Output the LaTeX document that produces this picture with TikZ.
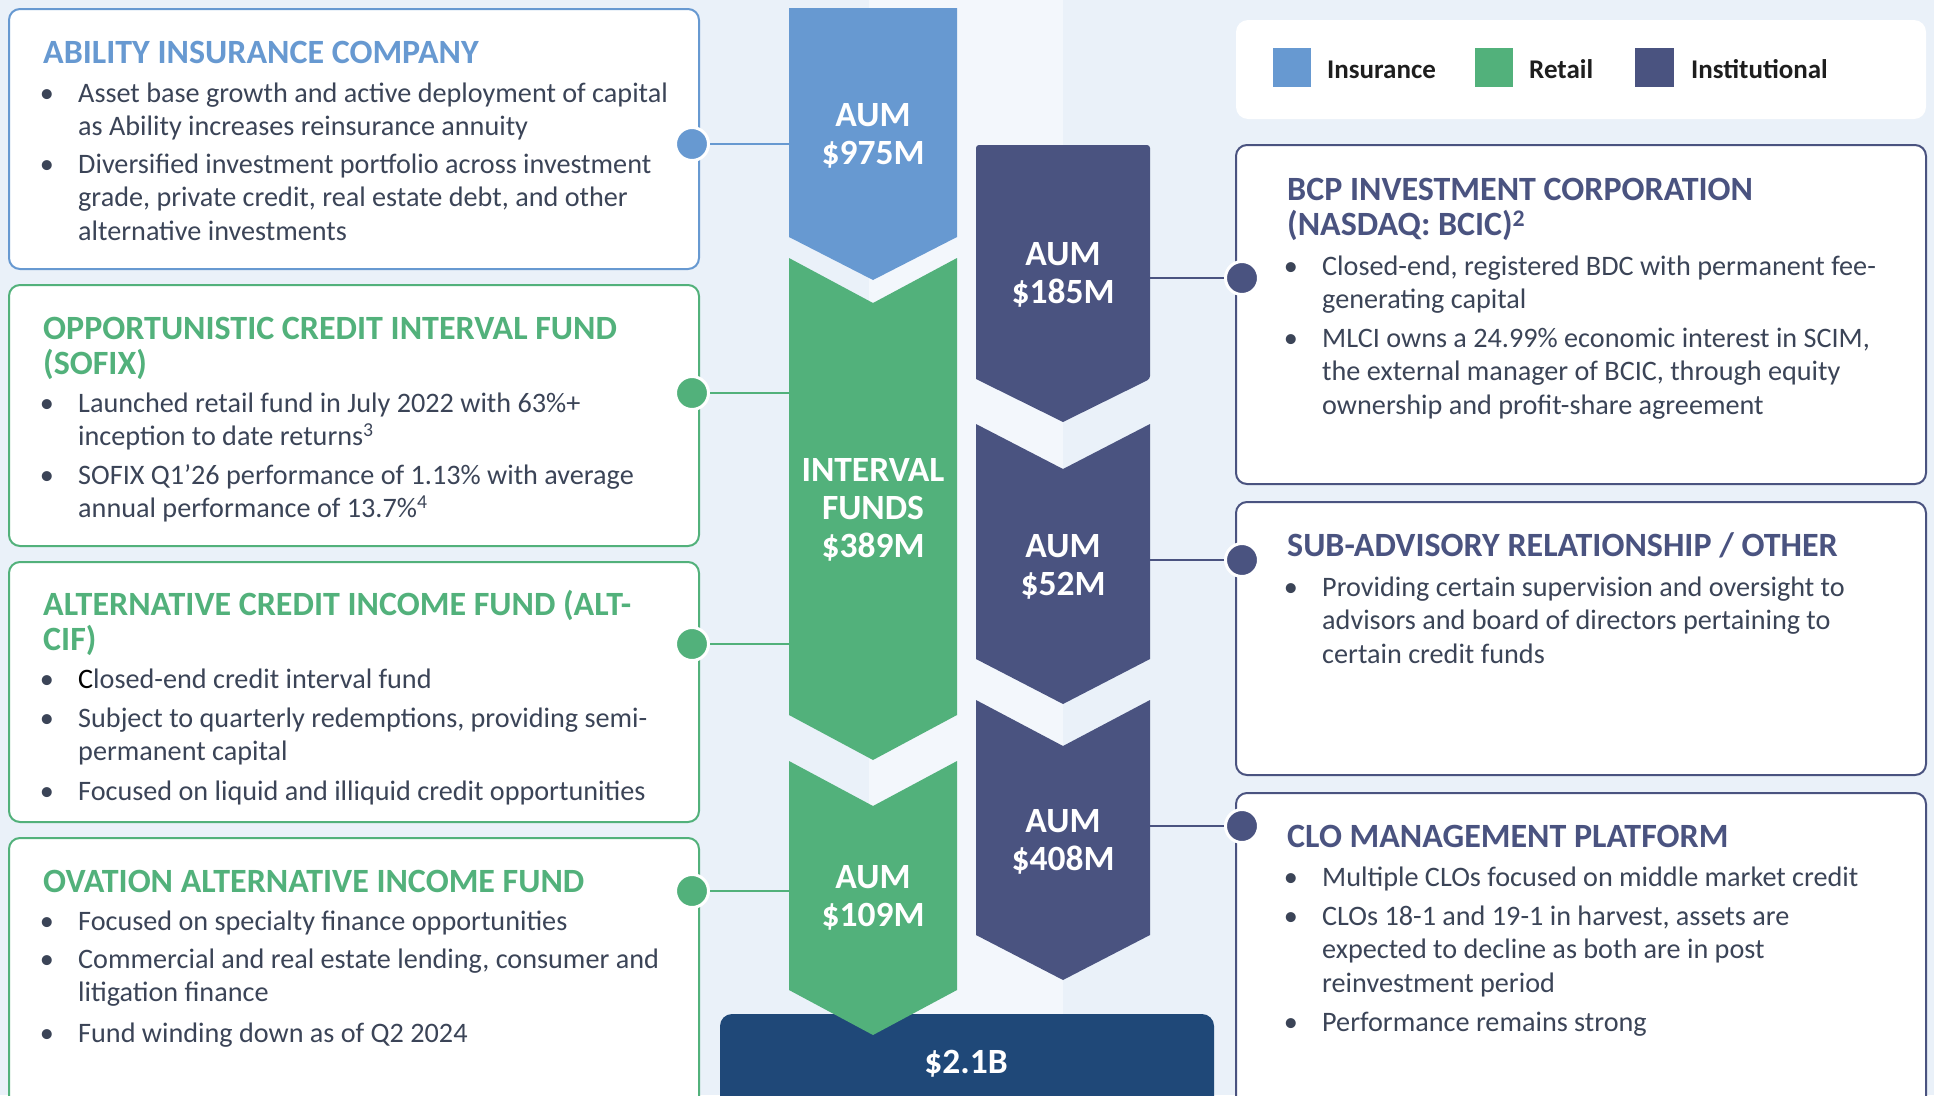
\documentclass[tikz,border=0pt]{standalone}
\usepackage{fontspec}
\setmainfont{Carlito}
\usetikzlibrary{calc}

\definecolor{bg}{HTML}{EAF1F9}
\definecolor{strip}{HTML}{F3F7FC}
\definecolor{insur}{HTML}{6799D1}
\definecolor{retail}{HTML}{52B17B}
\definecolor{inst}{HTML}{4A5380}
\definecolor{total}{HTML}{1F4878}
\definecolor{bodycol}{HTML}{3B4457}
\definecolor{legendtxt}{HTML}{1E1E1E}

\tikzset{
  infobox/.style={draw=#1, line width=2bp, fill=white, rounded corners=11bp},
  headtxt/.style={text=#1, font=\fontsize{34bp}{35bp}\selectfont\bfseries, anchor=base west, inner sep=0pt},
  bodytxt/.style={text=bodycol, font=\fontsize{28.2bp}{33.5bp}\selectfont, anchor=base west, inner sep=0pt},
  dotmark/.style={circle, fill=#1, draw=white, line width=3bp, minimum size=33bp, inner sep=0pt},
  link/.style={draw=#1, line width=2.5bp},
  aumtxt/.style={text=white, font=\fontsize{35.5bp}{38bp}\selectfont\bfseries, anchor=base, inner sep=0pt},
  legendlbl/.style={text=legendtxt, font=\fontsize{27bp}{30bp}\selectfont\bfseries, anchor=base west, inner sep=0pt},
}

% a bullet point: name, bullet x, text x, first baseline y, lines
\newcommand\bpoint[5]{%
  \node[bodytxt, anchor=base] (#1b) at (#2,#4) {\textbullet};
  \node[bodytxt] (#1) at (#3,#4) {\parbox[t]{640bp}{\leavevmode#5}};
}
% a heading: name, x, first baseline y, colour, lines
\newcommand\bhead[5]{%
  \node[headtxt=#4] (#1) at (#2,#3) {\parbox[t]{700bp}{\leavevmode#5}};
}
% chevron label: name, x, first baseline y, lines
\newcommand\clabel[4]{%
  \node[aumtxt] (#1) at (#2,#3) {\parbox[t]{220bp}{\centering #4}};
}

\begin{document}
\begin{tikzpicture}[x=1bp, y={(0,-1bp)}]
\useasboundingbox (0,0) rectangle (1934,1095);
\clip (0,0) rectangle (1934,1095);

% background and central light band
\fill[bg] (0,0) rectangle (1934,1095);
\fill[strip] (869,0) rectangle (1063,1095);

% ---------- left column of fund descriptions ----------
\draw[infobox=insur]  (9,9)   rectangle (699,269);
\draw[infobox=retail] (9,285) rectangle (699,546);
\draw[infobox=retail] (9,562) rectangle (699,822);
\draw[infobox=retail] (9,838) rectangle (699,1120);

\bhead{h1}{43}{63}{insur}{ABILITY INSURANCE COMPANY}
\bpoint{t1a}{47}{78}{102}{Asset base growth and active deployment of capital\\as Ability increases reinsurance annuity}
\bpoint{t1b}{47}{78}{173}{Diversified investment portfolio across investment\\grade, private credit, real estate debt, and other\\alternative investments}

\bhead{h2}{43}{339}{retail}{OPPORTUNISTIC CREDIT INTERVAL FUND\\(SOFIX)}
\bpoint{t2a}{47}{78}{412}{Launched retail fund in July 2022 with 63\%+\\inception to date returns\textsuperscript{3}}
\bpoint{t2b}{47}{78}{484}{SOFIX Q1’26 performance of 1.13\% with average\\annual performance of 13.7\%\textsuperscript{4}}

\bhead{h3}{43}{615}{retail}{ALTERNATIVE CREDIT INCOME FUND (ALT-\\CIF)}
\bpoint{t3a}{47}{78}{688}{\textcolor{black}{C}losed-end credit interval fund}
\bpoint{t3b}{47}{78}{727}{Subject to quarterly redemptions, providing semi-\\permanent capital}
\bpoint{t3c}{47}{78}{800}{Focused on liquid and illiquid credit opportunities}

\bhead{h4}{43}{892}{retail}{OVATION ALTERNATIVE INCOME FUND}
\bpoint{t4a}{47}{78}{930}{Focused on specialty finance opportunities}
\bpoint{t4b}{47}{78}{968}{Commercial and real estate lending, consumer and\\litigation finance}
\bpoint{t4c}{47}{78}{1042}{Fund winding down as of Q2 2024}

% ---------- right column ----------
\fill[white, rounded corners=12bp] (1236,20) rectangle (1926,119);
\fill[insur]  (1273,48) rectangle (1311,87);
\fill[retail] (1475,48) rectangle (1513,87);
\fill[inst]   (1635,48) rectangle (1674,87);
\node[legendlbl] (lg1) at (1327,78) {Insurance};
\node[legendlbl] (lg2) at (1529,78) {Retail};
\node[legendlbl] (lg3) at (1691,78) {Institutional};

\draw[infobox=inst] (1236,145) rectangle (1926,484);
\draw[infobox=inst] (1236,502) rectangle (1926,775);
\draw[infobox=inst] (1236,793) rectangle (1926,1120);

\bhead{h5}{1287}{200}{inst}{BCP INVESTMENT CORPORATION\\(NASDAQ: BCIC)\textsuperscript{2}}
\bpoint{t5a}{1291}{1322}{275}{Closed-end, registered BDC with permanent fee-\\generating capital}
\bpoint{t5b}{1291}{1322}{347}{MLCI owns a 24.99\% economic interest in SCIM,\\the external manager of BCIC, through equity\\ownership and profit-share agreement}

\bhead{h6}{1287}{556}{inst}{SUB-ADVISORY RELATIONSHIP / OTHER}
\bpoint{t6a}{1291}{1322}{596}{Providing certain supervision and oversight to\\advisors and board of directors pertaining to\\certain credit funds}

\bhead{h7}{1287}{847}{inst}{CLO MANAGEMENT PLATFORM}
\bpoint{t7a}{1291}{1322}{886}{Multiple CLOs focused on middle market credit}
\bpoint{t7b}{1291}{1322}{925}{CLOs 18-1 and 19-1 in harvest, assets are\\expected to decline as both are in post\\reinvestment period}
\bpoint{t7c}{1291}{1322}{1031}{Performance remains strong}

% ---------- chevron columns ----------
\fill[insur]  (789,8) -- (957,8) -- (957,237) -- (873,280) -- (789,237) -- cycle;
\fill[retail] (789,258) -- (873,303) -- (957,258) -- (957,715) -- (873,760) -- (789,715) -- cycle;
\fill[total, rounded corners=12bp] (720,1014) rectangle (1214,1130);
\fill[retail] (789,761) -- (873,806) -- (957,761) -- (957,990) -- (873,1035) -- (789,990) -- cycle;

\fill[inst, rounded corners=3bp] (976,379) -- (976,145) -- (1150,145) -- (1150,379) [sharp corners] -- (1063,422) -- cycle;
\fill[inst] (976,424) -- (1063,469) -- (1150,424) -- (1150,659) -- (1063,704) -- (976,659) -- cycle;
\fill[inst] (976,700) -- (1063,746) -- (1150,700) -- (1150,935) -- (1063,980) -- (976,935) -- cycle;

\clabel{a1}{873}{126}{AUM\\\$975M}
\clabel{a2}{873}{481}{INTERVAL\\FUNDS\\\$389M}
\clabel{a3}{873}{888}{AUM\\\$109M}
\clabel{a4}{1063}{265}{AUM\\\$185M}
\clabel{a5}{1063}{557}{AUM\\\$52M}
\clabel{a6}{1063}{832}{AUM\\\$408M}
\node[aumtxt] (tot) at (966,1073) {\$2.1B};

% ---------- connectors ----------
\coordinate (c1) at (789,144);
\coordinate (c2) at (789,393);
\coordinate (c3) at (789,644);
\coordinate (c4) at (789,891);
\coordinate (c5) at (1150,278);
\coordinate (c6) at (1150,560);
\coordinate (c7) at (1150,826);

\node[dotmark=insur]  (d1) at (692,144) {};
\node[dotmark=retail] (d2) at (692,393) {};
\node[dotmark=retail] (d3) at (692,644) {};
\node[dotmark=retail] (d4) at (692,891) {};
\node[dotmark=inst]   (d5) at (1242,278) {};
\node[dotmark=inst]   (d6) at (1242,560) {};
\node[dotmark=inst]   (d7) at (1242,826) {};

\draw[link=insur]  (d1) -- (c1);
\draw[link=retail] (d2) -- (c2);
\draw[link=retail] (d3) -- (c3);
\draw[link=retail] (d4) -- (c4);
\draw[link=inst]   (d5) -- (c5);
\draw[link=inst]   (d6) -- (c6);
\draw[link=inst]   (d7) -- (c7);
\end{tikzpicture}
\end{document}
